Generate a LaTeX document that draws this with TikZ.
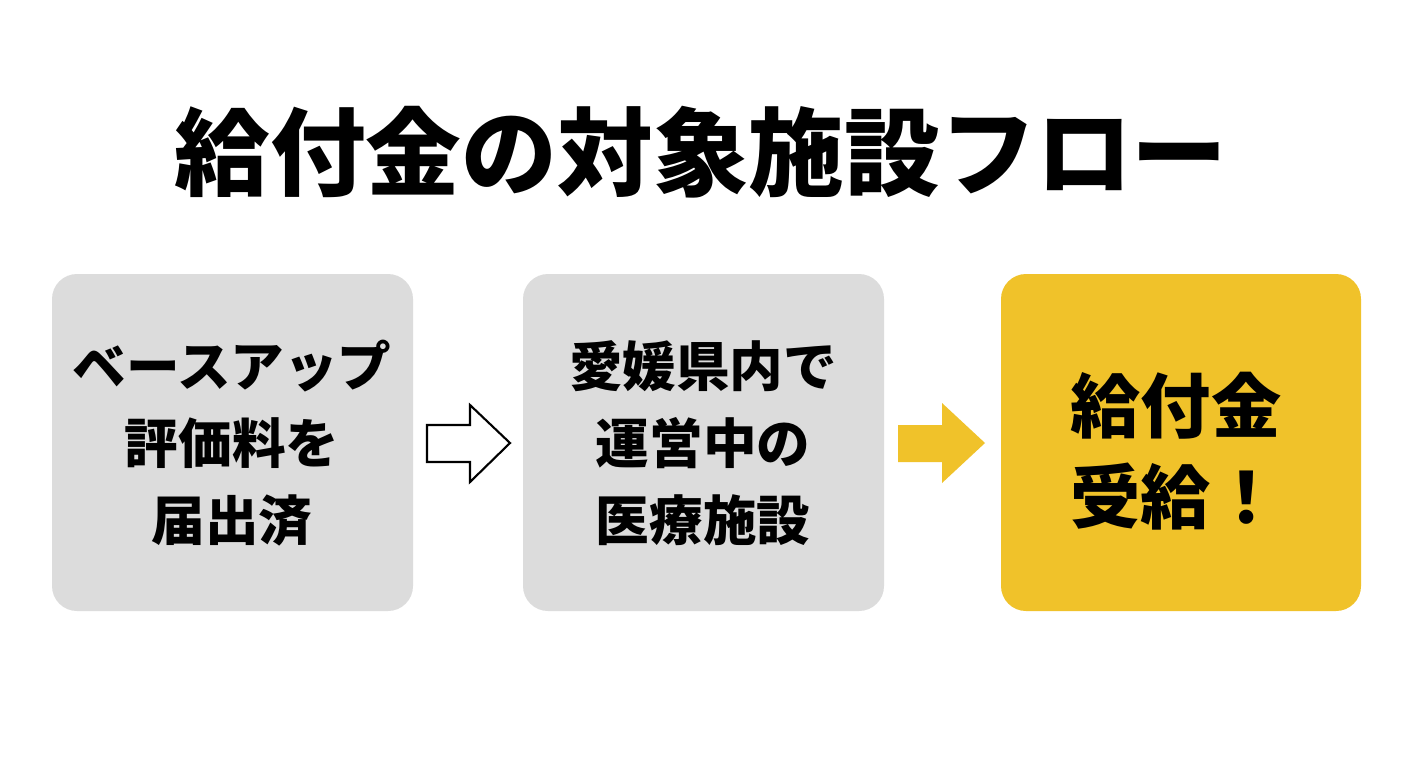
\documentclass[tikz,border=0pt]{standalone}
\usepackage{fontspec}
\newfontfamily\jp{Noto Sans CJK JP}
\definecolor{ylw}{RGB}{240,194,42}
\definecolor{gbox}{RGB}{220,220,220}
\begin{document}
\begin{tikzpicture}[x=0.02cm,y=-0.02cm,
 box/.style={rounded corners=0.5cm,fill=#1},
 txt/.style={font=\jp\bfseries\fontsize{30.5}{44}\selectfont,align=center,text=black}]
\useasboundingbox[fill=white] (0,0) rectangle (1408,768);
\node[font=\jp\bfseries\fontsize{54.5}{60}\selectfont] (title) at (701,152) {給付金の対象施設フロー};
\fill[box=gbox] (52,274) rectangle (413,611);
\fill[box=gbox] (523,274) rectangle (884,611);
\fill[box=ylw] (1001,274) rectangle (1361,611);
\node[txt] (b1) at (232,443) {ベースアップ\\評価料を\\届出済};
\node[txt] (b2) at (703,443) {愛媛県内で\\運営中の\\医療施設};
\node[txt,font=\jp\bfseries\fontsize{40}{52}\selectfont] (b3) at (1176,451) {給付金\\受給！};
\draw[line width=1.2pt,fill=white] (427,425)--(470,425)--(470,405)--(510,443)--(470,482)--(470,462)--(427,462)--cycle;
\fill[ylw] (898,425)--(942,425)--(942,403)--(985,443)--(942,483)--(942,462)--(898,462)--cycle;
\end{tikzpicture}
\end{document}
